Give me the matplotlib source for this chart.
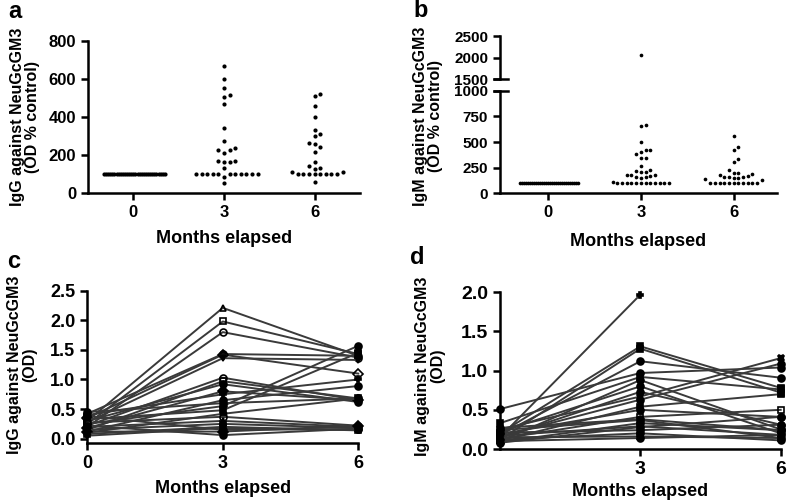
import numpy as np
import matplotlib
matplotlib.use('Agg')
import matplotlib.pyplot as plt

plt.rcParams['font.family'] = ['Liberation Sans', 'DejaVu Sans']
plt.rcParams['font.weight'] = 'bold'
plt.rcParams['axes.labelweight'] = 'bold'

# panel a: IgG, OD % control
igg_pct_m0 = [100] * 30
igg_pct_m3 = [668, 598, 552, 515, 505, 470, 340, 275, 237, 225, 225, 211,
              168, 162, 162, 168, 131, 84, 51] + [100] * 11
igg_pct_m6 = [523, 509, 460, 400, 331, 309, 298, 265, 256, 242, 216, 165,
              142, 131, 128, 112, 108, 60] + [100] * 8

# panel b: IgM, OD % control
igm_pct_m0 = [100] * 30
igm_pct_m3 = [2068, 670, 656, 503, 420, 405, 380, 420, 345, 340, 263, 227,
              220, 205, 205, 178, 175, 175, 166, 162, 156, 146, 113] + [100] * 12
igm_pct_m6 = [562, 448, 422, 337, 308, 227, 200, 200, 185, 181, 172, 162,
              156, 156, 146, 146, 142, 132] + [100] * 11

months = [0, 3, 6]

# panel c: IgG OD per patient (month 0, 3, 6)
igg_od = [
    [0.30, 2.21, 1.40],
    [0.25, 1.98, 1.43],
    [0.20, 1.80, 1.37],
    [0.42, 1.43, 1.40],
    [0.35, 1.42, 1.10],
    [0.28, 1.36, 1.33],
    [0.22, 1.03, 0.65],
    [0.15, 0.97, 0.68],
    [0.30, 0.92, 0.62],
    [0.18, 0.80, 0.65],
    [0.40, 0.75, 1.00],
    [0.12, 0.65, 0.89],
    [0.25, 0.55, 1.57],
    [0.33, 0.48, 1.45],
    [0.10, 0.42, 0.68],
    [0.27, 0.37, 0.22],
    [0.20, 0.30, 0.20],
    [0.15, 0.25, 0.18],
    [0.05, 0.18, 0.15],
    [0.38, 0.15, 0.16],
    [0.12, 0.12, 0.22],
    [0.22, 0.06, 0.17],
    [0.08, 0.20, 0.14],
    [0.45, 0.60, 0.68],
]

# panel d: IgM OD per patient (month 0, 3, 6)
igm_od = [
    [0.15, 1.97, np.nan],
    [0.20, 1.31, 0.78],
    [0.12, 1.28, 0.72],
    [0.18, 1.12, 0.91],
    [0.51, 0.97, 1.04],
    [0.33, 0.92, 0.76],
    [0.10, 0.88, 0.25],
    [0.22, 0.80, 0.20],
    [0.14, 0.73, 0.31],
    [0.25, 0.67, 1.16],
    [0.16, 0.63, 1.09],
    [0.11, 0.54, 0.70],
    [0.19, 0.50, 0.41],
    [0.13, 0.41, 0.50],
    [0.24, 0.37, 0.14],
    [0.09, 0.33, 0.24],
    [0.17, 0.29, 0.18],
    [0.21, 0.24, 0.31],
    [0.12, 0.20, 0.11],
    [0.15, 0.16, 0.14],
    [0.10, 0.14, 0.18],
    [0.27, 0.38, 0.24],
    [0.08, 0.28, 0.41],
]

W, H = 787, 504
fig = plt.figure(figsize=(W / 100, H / 100), dpi=100)


def box(l, t, r, b):
    return [l / W, 1 - b / H, (r - l) / W, (b - t) / H]


def swarm(vals, x0, px_x, px_y, d):
    vals = np.asarray(vals, float)
    xs = np.zeros(len(vals))
    placed = []
    for i in np.argsort(vals, kind='stable'):
        y = vals[i] * px_y
        k = 0
        while True:
            off = ((k + 1) // 2) * d * (1 if k % 2 else -1)
            if all((off - a) ** 2 + (y - b) ** 2 >= 0.9 * d * d for a, b in placed):
                break
            k += 1
        placed.append((off, y))
        xs[i] = x0 + off / px_x
    return xs


def style(ax, fs):
    for s in ['top', 'right']:
        ax.spines[s].set_visible(False)
    for s in ['left', 'bottom']:
        ax.spines[s].set_linewidth(1.8)
    ax.tick_params(width=1.8, length=5, labelsize=fs)


# ---- a ----
ax = fig.add_axes(box(88, 41, 360, 193))
xlim = (-1.5, 7.5)
ylim = (0, 800)
px_x = 272 / (xlim[1] - xlim[0])
px_y = 152 / (ylim[1] - ylim[0])
for m, v, d in [(0, igg_pct_m0, 2.1), (3, igg_pct_m3, 5.6), (6, igg_pct_m6, 5.6)]:
    ax.scatter(swarm(v, m, px_x, px_y, d), v, s=9, c='k', linewidths=0, zorder=3)
ax.set_xlim(xlim)
ax.set_ylim(ylim)
ax.set_xticks(months)
ax.set_yticks([0, 200, 400, 600, 800])
style(ax, 12)
ax.set_xlabel('Months elapsed', fontsize=13)
ax.xaxis.set_label_coords(0.5, -0.243)
ax.set_ylabel('IgG against NeuGcGM3\n(OD % control)', fontsize=11.5, linespacing=1.0)
ax.yaxis.set_label_coords(-0.176, 0.5)
fig.text(8 / W, 1 - 18 / H, 'a', fontsize=17, fontweight='bold')

# ---- b (broken axis) ----
axb = fig.add_axes(box(500, 90.7, 777, 193.3))
axt = fig.add_axes(box(500, 36, 777, 79.3))
xlim = (-1.55, 7.4)
px_x = 277 / (xlim[1] - xlim[0])
px_y = 102.6 / 1000
for m, v, d in [(0, igm_pct_m0, 2.0), (3, igm_pct_m3, 4.7), (6, igm_pct_m6, 4.7)]:
    xs = swarm(v, m, px_x, px_y, d)
    for a in (axb, axt):
        a.scatter(xs, v, s=7, c='k', linewidths=0, zorder=3)
axb.set_xlim(xlim)
axt.set_xlim(xlim)
axb.set_ylim(0, 1000)
axt.set_ylim(1500, 2500)
axb.set_xticks(months)
axb.set_yticks([0, 250, 500, 750, 1000])
axt.set_yticks([1500, 2000, 2500])
style(axb, 11)
style(axt, 11)
axb.tick_params(axis='x', labelsize=12)
axt.spines['bottom'].set_visible(False)
axt.set_xticks([])
axb.plot([-0.02, 0.03], [1, 1], transform=axb.transAxes, color='k', lw=1.8, clip_on=False)
axt.plot([-0.02, 0.03], [0, 0], transform=axt.transAxes, color='k', lw=1.8, clip_on=False)
axb.set_xlabel('Months elapsed', fontsize=13)
axb.xaxis.set_label_coords(0.5, -0.387)
axb.set_ylabel('IgM against NeuGcGM3\n(OD % control)', fontsize=11.5, linespacing=1.0)
axb.yaxis.set_label_coords(-0.205, 0.75)
fig.text(413 / W, 1 - 17 / H, 'b', fontsize=17, fontweight='bold')

markers = ['^', 's', 'o', 'o', 'D', 'v', 'o', 's', 'o', 'D', 'P', 'o',
           'o', 's', 'h', 'o', '^', 's', 'v', 'o', 'D', 'o', 's', 'o']
fills_c = ['none', 'none', 'none', 'k', 'none', 'k', 'none', 'none', 'k', 'k', 'k', 'k',
           'k', 'k', 'k', 'none', 'k', 'k', 'none', 'k', 'k', 'k', 'k', 'k']
markers_d = ['P', 's', 's', 'o', 'o', 's', 'o', 'o', 'o', 'X', 'o', 's',
             'o', 's', 'o', 'o', 's', 'o', 'o', 's', 'o', 'o', 'o']
fills_d = ['k'] * 13 + ['none'] + ['k'] * 9


def lines(ax, data, mk, fl):
    for i, row in enumerate(data):
        ax.plot(months, row, color='#3a3a3a', lw=1.4, marker=mk[i % len(mk)],
                mfc=fl[i % len(fl)], mec='k', mew=1.2, ms=5, clip_on=False, zorder=3)


# ---- c ----
ax = fig.add_axes(box(87.3, 290.7, 358.3, 442.7))
lines(ax, igg_od, markers, fills_c)
ax.set_xlim(0, 6)
ax.set_ylim(-0.068, 2.5)
ax.set_xticks(months)
ax.set_yticks([0, 0.5, 1.0, 1.5, 2.0, 2.5])
ax.set_yticklabels(['0.0', '0.5', '1.0', '1.5', '2.0', '2.5'])
style(ax, 13)
ax.set_xlabel('Months elapsed', fontsize=13)
ax.xaxis.set_label_coords(0.5, -0.245)
ax.set_ylabel('IgG against NeuGcGM3\n(OD)', fontsize=11.5, linespacing=1.0)
ax.yaxis.set_label_coords(-0.185, 0.51)
fig.text(7 / W, 1 - 268 / H, 'c', fontsize=17, fontweight='bold')

# ---- d ----
ax = fig.add_axes(box(500, 292.3, 780.7, 449))
lines(ax, igm_od, markers_d, fills_d)
ax.set_xlim(0, 6)
ax.set_ylim(0, 2.0)
ax.set_xticks([3, 6])
ax.set_yticks([0, 0.5, 1.0, 1.5, 2.0])
ax.set_yticklabels(['0.0', '0.5', '1.0', '1.5', '2.0'])
style(ax, 14)
ax.set_xlabel('Months elapsed', fontsize=13)
ax.xaxis.set_label_coords(0.5, -0.217)
ax.set_ylabel('IgM against NeuGcGM3\n(OD)', fontsize=11.5, linespacing=1.0)
ax.yaxis.set_label_coords(-0.196, 0.53)
fig.text(410 / W, 1 - 264 / H, 'd', fontsize=17, fontweight='bold')

fig.savefig('out.png', dpi=100)
